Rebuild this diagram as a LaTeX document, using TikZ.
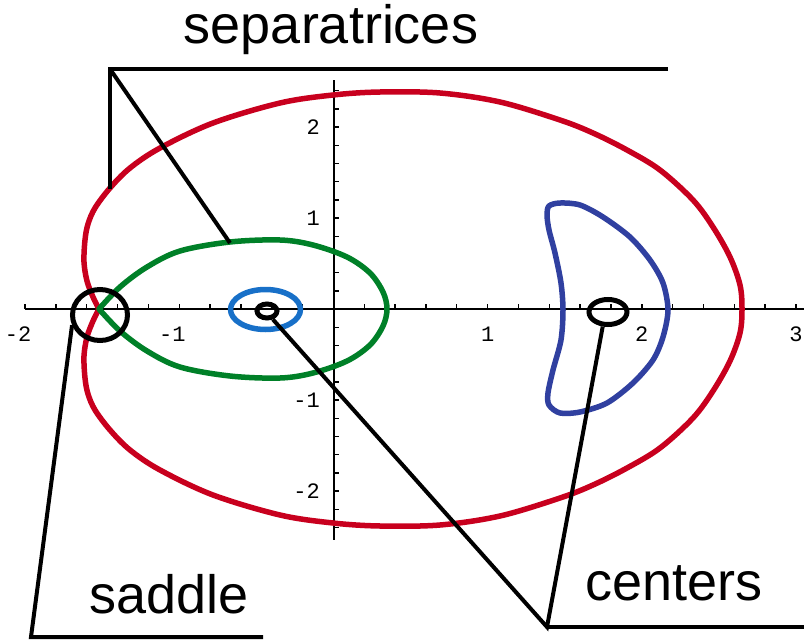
\documentclass[tikz,border=0pt]{standalone}
\usepackage{fontspec}
\setmainfont{Liberation Sans}
\newfontfamily\tickfam{Liberation Mono}
\newcommand\ticklabelfont{\tickfam\fontsize{22}{22}\selectfont}
\newcommand\biglabelfont{\fontsize{54}{60}\selectfont}
\usetikzlibrary{shapes.geometric}
\definecolor{sepred}{RGB}{200,0,30}
\definecolor{sepgreen}{RGB}{0,128,40}
\definecolor{orbitblue}{RGB}{48,64,160}
\definecolor{lightorbit}{RGB}{24,112,200}
\begin{document}
\begin{tikzpicture}[x=1pt,y=-1pt,
  axis/.style={line width=2pt,black},
  tickmark/.style={line width=1.4pt,black},
  curve/.style={line width=5.5pt,line join=round,line cap=round},
  callout/.style={line width=4pt,line join=miter,black},
  marker/.style={draw,ellipse,line width=5pt,inner sep=0pt},
  ticklbl/.style={font=\ticklabelfont,inner sep=0pt},
  biglbl/.style={font=\biglabelfont,inner sep=0pt}]
\useasboundingbox (0,0) rectangle (804,640);
% axes
\draw[axis] (25,309) -- (804,309);
\draw[axis] (334,80) -- (334,540);
\foreach \i in {0,...,25} \draw[tickmark] ({25+\i*30.84},309) -- ++(0,-5);
\foreach \j in {-12,...,-1,1,2,...,12} \draw[tickmark] (334,{309+\j*18.2}) -- ++(5,0);
% tick labels
\node[ticklbl,anchor=base east] (xm2) at (31.6,341) {-2};
\node[ticklbl,anchor=base east] (xm1) at (185.8,341) {-1};
\node[ticklbl,anchor=base] (xp1) at (487.6,341) {1};
\node[ticklbl,anchor=base] (xp2) at (641.8,341) {2};
\node[ticklbl,anchor=base] (xp3) at (796,341) {3};
\node[ticklbl,anchor=base east] (yp2) at (320,134) {2};
\node[ticklbl,anchor=base east] (yp1) at (320,225) {1};
\node[ticklbl,anchor=base east] (ym1) at (320,407) {-1};
\node[ticklbl,anchor=base east] (ym2) at (320,498) {-2};
% red separatrix
\draw[curve,sepred] plot[smooth,tension=0.55] coordinates {
 (99,309) (93,297) (87,281) (84,262) (85,240) (88,224) (95,208) (110,188)
 (130,168) (160,148) (213,123) (280,103) (333,95) (380,92) (440,93) (500,102)
 (560,120) (593,133) (627,150) (660,170) (693,200) (713,227) (730,257) (740,285)
 (742,309)
 (740,333) (730,361) (713,391) (693,418) (660,448) (627,468) (593,485) (560,498)
 (500,516) (440,525) (380,526) (333,523) (280,515) (213,495) (160,470) (130,450)
 (110,430) (95,410) (88,394) (85,378) (84,356) (87,337) (93,321) (99,309)};
% green separatrix
\draw[curve,sepgreen] plot[smooth,tension=0.55] coordinates {
 (99,309) (120,287) (147,267) (180,251) (230,242) (280,240) (313,245) (347,257)
 (370,273) (383,292) (387,309)
 (383,326) (370,345) (347,361) (313,373) (280,378) (230,376) (180,367) (147,351)
 (120,331) (99,309)};
% blue crescent orbit
\draw[curve,orbitblue] plot[smooth cycle,tension=0.5] coordinates {
 (549,206) (560,203) (580,205) (603,217) (630,237) (650,260) (663,283) (668,310)
 (663,337) (653,360) (633,383) (607,403) (580,412) (560,413) (549,405)
 (548,393) (553,370) (561,340) (563,310) (561,283) (555,253) (549,230) (547,215)};
% light blue orbit
\draw[curve,lightorbit] (265.5,309.5) ellipse [x radius=35, y radius=20];
% markers
\node[marker,minimum width=55pt,minimum height=51pt] (sad) at (100,315) {};
\node[marker,minimum width=20pt,minimum height=14pt] (cenL) at (267,311) {};
\node[marker,minimum width=38pt,minimum height=25pt] (cenR) at (608,312) {};
% labels
\node[biglbl,anchor=base] (seplbl) at (331,43) {separatrices};
\node[biglbl,anchor=base west] (sadlbl) at (89,613) {saddle};
\node[biglbl,anchor=base west] (cenlbl) at (585,600) {centers};
% callout lines
\coordinate (sepL) at (110,69);
\coordinate (sepR) at (668,69);
\coordinate (redP) at (110,189);
\coordinate (greenP) at (230,243);
\draw[callout] (sepR) -- (sepL) -- (redP);
\draw[callout] (sepL) -- (greenP);
\coordinate (sadJ) at (31,637);
\coordinate (sadE) at (263,637);
\draw[callout] (sad.200) -- (sadJ) -- (sadE);
\coordinate (cenJ) at (547,627);
\coordinate (cenE) at (804,627);
\draw[callout] (cenL.305) -- (cenJ) -- (cenR.250);
\draw[callout] (cenJ) -- (cenE);
\end{tikzpicture}
\end{document}
